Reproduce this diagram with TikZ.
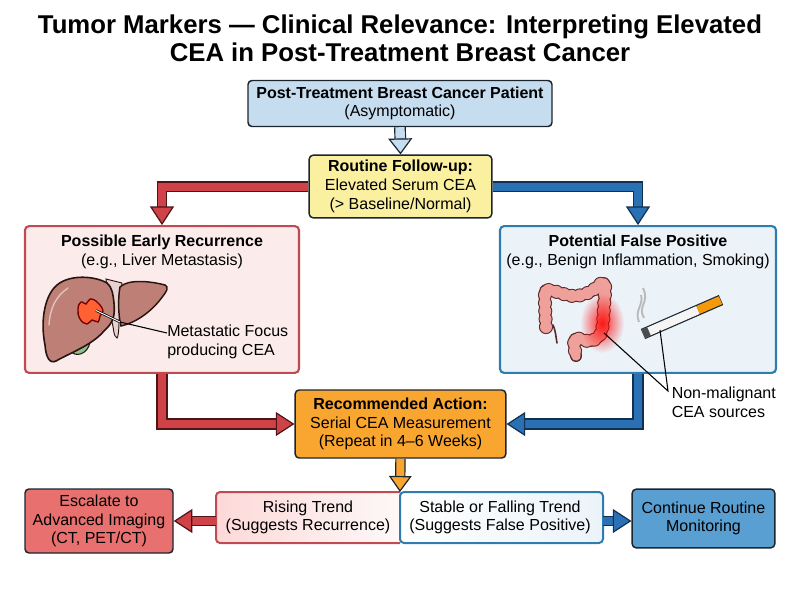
\documentclass[tikz,border=0pt]{standalone}
\usepackage{fontspec}
\setmainfont{Liberation Sans}
\usetikzlibrary{arrows.meta,fadings}
\definecolor{inkdark}{HTML}{1B2530}
\definecolor{patientfill}{HTML}{C6DDF0}
\definecolor{routinefill}{HTML}{FBF0A0}
\definecolor{actionfill}{HTML}{F9A630}
\definecolor{redframe}{HTML}{BF4A52}
\definecolor{redpale}{HTML}{FBECEB}
\definecolor{blueframe}{HTML}{2F7DAE}
\definecolor{bluepale}{HTML}{EBF3F9}
\definecolor{redarrow}{HTML}{CF4248}
\definecolor{redink}{HTML}{4E1416}
\definecolor{bluearrow}{HTML}{2A70B4}
\definecolor{blueink}{HTML}{12304F}
\definecolor{escalatefill}{HTML}{E8716F}
\definecolor{continuefill}{HTML}{5A9FD2}
\definecolor{liverfill}{HTML}{BE7F76}
\definecolor{liverink}{HTML}{2A1412}
\definecolor{colonfill}{HTML}{EFA09A}
\definecolor{colonink}{HTML}{5A2A2A}
\tikzfading[name=glowfade,inner color=transparent!15,outer color=transparent!100]
\tikzset{
  txt/.style={inner sep=0pt,align=center,font=\fontsize{12}{14}\selectfont},
  box/.style={draw=#1,line width=1.1pt,rounded corners=3pt,inner sep=0pt,align=center,font=\fontsize{12}{14}\selectfont},
  fat/.style n args={3}{draw=#1,line width=0.9pt,double=#2,double distance=#3,line join=miter},
  tipred/.style={-{Triangle[length=14pt,width=18pt,fill=redarrow]}},
  tipblue/.style={-{Triangle[length=14pt,width=18pt,fill=bluearrow]}},
}
\newcommand{\colonline}{plot [smooth,tension=0.6] coordinates {(546,327) (545,297) (548,290) (573,296) (590,292) (604,283) (604,306) (601,333) (590,341) (575,339) (576,356)}}
\begin{document}
\begin{tikzpicture}[x=0.75pt,y=0.75pt,yscale=-1,xscale=1]
\useasboundingbox (0,0) rectangle (800,600);

% Title
\node (title) at (400,38) [inner sep=0pt,align=center,font=\fontsize{19.3}{21}\selectfont\bfseries] {Tumor Markers --- Clinical Relevance: Interpreting Elevated\\CEA in Post-Treatment Breast Cancer};

% Boxes
\node (patient) at (400,103.5) [box=inkdark,fill=patientfill,minimum width=228pt,minimum height=34.5pt] {\textbf{Post-Treatment Breast Cancer Patient}\\(Asymptomatic)};
\node (routine) at (400.5,186.5) [box=inkdark,fill=routinefill,minimum width=137pt,minimum height=47pt] {\textbf{Routine Follow-up:}\\Elevated Serum CEA\\(> Baseline/Normal)};
\node (recur) at (162,299.5) [box=redframe,line width=1.6pt,fill=redpale,minimum width=205.5pt,minimum height=110pt] {};
\node (falsepos) at (638,299.5) [box=blueframe,line width=1.6pt,fill=bluepale,minimum width=207pt,minimum height=110pt] {};
\node (action) at (400.5,424) [box=inkdark,fill=actionfill,minimum width=158pt,minimum height=51pt] {\textbf{Recommended Action:}\\Serial CEA Measurement\\(Repeat in 4--6 Weeks)};
\node (escalate) at (99,521) [box=inkdark,fill=escalatefill,minimum width=111pt,minimum height=48pt] {Escalate to\\Advanced Imaging\\(CT, PET/CT)};
\node (continue) at (703.5,518.5) [box=inkdark,fill=continuefill,minimum width=107pt,minimum height=44pt] {Continue Routine\\Monitoring};

% Split box
\fill [left color=redpale!85!red!70!white,right color=redpale!35!white,rounded corners=3pt] (216,492) -- (400,492) -- (400,543) -- (216,543) -- cycle;
\fill [left color=white,right color=bluepale,rounded corners=3pt] (400,492) -- (603,492) -- (603,543) -- (400,543) -- cycle;
\draw [redframe,line width=1.5pt,rounded corners=3pt] (400,492) -- (216,492) -- (216,543) -- (400,543);
\draw [blueframe,line width=1.5pt,rounded corners=3pt] (400,492) -- (603,492) -- (603,543) -- (400,543) -- cycle;
\node (rise) at (308,517.5) [txt] {Rising Trend\\(Suggests Recurrence)};
\node (stable) at (500,517.5) [txt] {Stable or Falling Trend\\(Suggests False Positive)};
\coordinate (split) at (400,492);
\coordinate (riseend) at (216,521);
\coordinate (stableend) at (603,521);

% Arrows
\draw [fat={inkdark}{patientfill}{7pt},-{Triangle[length=12pt,width=18pt,fill=patientfill]}] (patient.south) -- (routine.north);
\draw [fat={redink}{redarrow}{6pt},tipred] (routine.west) -| (recur.north);
\draw [fat={blueink}{bluearrow}{6pt},tipblue] (routine.east) -| (falsepos.north);
\draw [fat={redink}{redarrow}{6.5pt},tipred] (recur.south) |- (action.west);
\draw [fat={blueink}{bluearrow}{6.5pt},tipblue] (falsepos.south) |- (action.east);
\draw [fat={inkdark}{actionfill}{6pt},-{Triangle[length=12pt,width=17pt,fill=actionfill]}] (action.south) -- (split);
\draw [fat={redink}{redarrow}{6pt},tipred] (riseend) -- (escalate.east |- riseend);
\draw [fat={blueink}{bluearrow}{6pt},tipblue] (stableend) -- (continue.west |- stableend);

% Liver panel
\node (recurhead) at (162,252) [txt] {\textbf{Possible Early Recurrence}\\(e.g., Liver Metastasis)};
\fill [fill=liverfill!35!white,draw=liverink,line width=0.7pt] (106,279) -- (122,283) -- (119,322) .. controls (119,330) and (118,338) .. (117,338) .. controls (113,336) and (114,328) .. (112,322) -- cycle;
\draw [fill=liverfill,draw=liverink,line width=1.1pt] (120,287) .. controls (128,279) and (150,281) .. (165,285) .. controls (169,287) and (167,291) .. (163,296) .. controls (153,310) and (138,322) .. (121,326) .. controls (118,314) and (118,298) .. (120,287) -- cycle;
\draw [fill=green!30!gray!70!white,draw=liverink,line width=0.8pt] (70,350) .. controls (74,358) and (88,355) .. (90,342) -- (72,342) -- cycle;
\draw [fill=liverfill,draw=liverink,line width=1.2pt] (107,283) .. controls (95,276) and (70,274) .. (57,285) .. controls (45,295) and (40,320) .. (45,345) .. controls (46,358) and (50,364) .. (56,361) .. controls (72,352) and (92,345) .. (104,331) .. controls (114,322) and (115,315) .. (114,303) .. controls (113,294) and (112,287) .. (107,283) -- cycle;
\draw [white!55!liverfill,line width=1pt,line cap=round] (49,325) .. controls (50,308) and (56,296) .. (68,288);
\draw [fill=red!55!orange!80!white,draw=red!45!black,line width=1pt] plot [smooth cycle,tension=0.8] coordinates {(78,309) (81,302) (86,304) (90,299) (96,301) (100,305) (103,311) (100,316) (98,322) (92,320) (87,324) (80,319)};
\node (focuslabel) at (167,342) [txt,anchor=west,align=left] {Metastatic Focus\\producing CEA};
\coordinate (focus) at (96,310.5);
\draw [line width=1.8pt,black] (focus) -- (120,322);
\draw [line width=0.7pt,white] (focus) -- (120,322);
\draw [line width=0.8pt] (120,322) -- (focuslabel.west |- 0,333);

% Colon panel
\node (falsehead) at (638,252) [txt] {\textbf{Potential False Positive}\\(e.g., Benign Inflammation, Smoking)};
\draw [colonink,line cap=round,line width=1.2pt] (553,325) .. controls (556,332) and (556,338) .. (557,343);
\draw [colonink,line cap=round,line join=round,line width=9pt] \colonline;
\draw [colonink,line cap=round,line width=10.6pt,dash pattern=on 0pt off 6pt] \colonline;
\draw [colonfill,line cap=round,line join=round,line width=7pt] \colonline;
\draw [colonfill,line cap=round,line width=9pt,dash pattern=on 0pt off 6pt] \colonline;
\fill [red,path fading=glowfade] (602,323) ellipse (22 and 30);
% cigarette
\draw [inkdark,line width=8.2pt] (643,334) -- (721,300);
\draw [white!92!gray,line width=6.4pt] (643,334) -- (698,310);
\draw [orange!75!yellow!80!brown,line width=6.4pt] (698,310) -- (720.5,300.2);
\draw [gray!60!black,line width=6.6pt] (643,334) -- (649,331.4);
\draw [gray!55,line width=1.4pt] (644,318) .. controls (637,306) and (650,303) .. (643,288);
\draw [gray!55,line width=1.4pt] (639,322) .. controls (634,310) and (644,305) .. (641,295);
\node (srclabel) at (671.5,402.5) [txt,anchor=west,align=left] {Non-malignant\\CEA sources};
\coordinate (colonspot) at (604,333);
\coordinate (cigspot) at (660,330);
\coordinate (srctip) at (668,391);
\draw [line width=0.8pt] (colonspot) -- (srctip) -- (cigspot);

\end{tikzpicture}
\end{document}
